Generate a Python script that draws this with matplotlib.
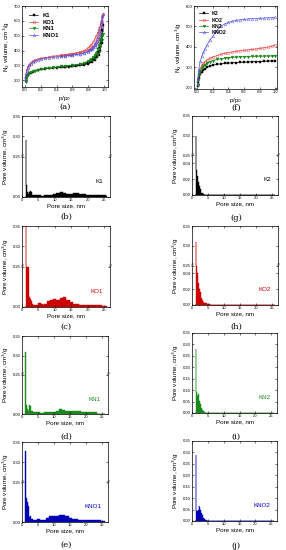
import numpy as np
import matplotlib
matplotlib.use('Agg')
import matplotlib.pyplot as plt

plt.rcParams['font.family'] = ['Liberation Sans', 'DejaVu Sans']

# Isotermas (a)
p_ads = [0.005, 0.01, 0.02, 0.03, 0.05, 0.07, 0.1, 0.13, 0.16, 0.2, 0.25, 0.3, 0.35, 0.4, 0.45,
         0.5, 0.55, 0.6, 0.65, 0.7, 0.75, 0.8, 0.85, 0.88, 0.91, 0.93, 0.95, 0.97, 0.98, 0.99]
p_des = [0.98, 0.96, 0.94, 0.92, 0.9, 0.88, 0.86, 0.84, 0.82, 0.8, 0.75, 0.7, 0.6, 0.5, 0.45]

k1_ads = [195, 215, 230, 238, 246, 252, 259, 264, 268, 273, 277, 280, 283, 285, 287,
          289, 292, 294, 297, 300, 305, 312, 326, 338, 355, 372, 400, 450, 500, 570]
k1_des = [540, 470, 420, 390, 370, 355, 345, 335, 325, 318, 307, 300, 294, 289, 287]
ko1_ads = [210, 240, 270, 288, 305, 318, 330, 337, 343, 348, 353, 357, 361, 365, 368,
           371, 375, 379, 383, 388, 395, 405, 420, 438, 460, 480, 510, 560, 600, 648]
ko1_des = [630, 590, 550, 520, 495, 475, 455, 440, 428, 418, 400, 390, 380, 371, 368]
kn1_ads = [190, 212, 228, 237, 246, 253, 261, 266, 271, 276, 280, 284, 287, 290, 293,
           296, 299, 302, 305, 309, 315, 323, 338, 352, 372, 392, 425, 470, 500, 512]
kn1_des = [505, 480, 440, 410, 385, 368, 355, 345, 337, 330, 318, 310, 302, 296, 293]
kno1_ads = [205, 235, 265, 283, 300, 313, 325, 332, 338, 343, 348, 352, 355, 358, 361,
            364, 367, 370, 374, 378, 385, 393, 410, 425, 445, 462, 490, 540, 590, 645]
kno1_des = [630, 580, 530, 490, 460, 440, 425, 412, 402, 395, 385, 378, 370, 364, 361]

# Isotermas (f)
p2 = [0.005, 0.01, 0.02, 0.04, 0.06, 0.08, 0.1, 0.13, 0.16, 0.2, 0.25, 0.3, 0.35, 0.4, 0.45,
      0.5, 0.55, 0.6, 0.65, 0.7, 0.75, 0.8, 0.85, 0.9, 0.95, 0.99]
k2 = [210, 228, 250, 268, 280, 288, 294, 301, 306, 311, 315, 318, 320, 322, 323,
      324, 325, 326, 327, 328, 328, 329, 330, 331, 332, 333]
kn2 = [215, 238, 262, 285, 298, 307, 314, 322, 328, 334, 339, 343, 346, 348, 350,
       351, 352, 353, 353, 354, 354, 355, 355, 356, 356, 357]
ko2 = [220, 242, 268, 295, 310, 320, 328, 337, 344, 351, 358, 364, 369, 373, 376,
       379, 382, 384, 386, 388, 390, 393, 396, 399, 403, 410]
kno2 = [220, 250, 290, 330, 355, 375, 392, 412, 432, 452, 480, 500, 512, 520, 526,
        530, 533, 535, 537, 538, 539, 540, 541, 542, 543, 545]

# Distribuciones de poros
ps1 = [1.0, 1.15, 1.25, 1.35, 1.5, 1.7, 1.9, 2.2, 2.5, 2.8, 3.1, 3.5, 4.0, 4.5, 5.0, 5.5, 6.0, 6.5, 7.0,
       8.0, 9.0, 10.0, 11.0, 12.0, 13.0, 14.0, 15.0, 16.0, 17.0, 18.0, 19.0, 20.0, 21.0, 22.0, 23.0,
       24.0, 25.0, 26.0]
k1_psd = [0, 0.29, 0.020, 0.015, 0.012, 0.006, 0.004, 0.006, 0.008, 0.006, 0.003, 0.002, 0.002, 0.002,
          0.003, 0.002, 0.001, 0.001, 0.002, 0.003, 0.003, 0.004, 0.005, 0.006, 0.005, 0.004, 0.004,
          0.005, 0.005, 0.004, 0.004, 0.003, 0.003, 0.003, 0.002, 0.002, 0.002, 0.001]
ko1_psd = [0, 0.40, 0.245, 0.06, 0.06, 0.055, 0.05, 0.012, 0.010, 0.008, 0.004, 0.003, 0.002, 0.003,
           0.005, 0.005, 0.004, 0.003, 0.004, 0.007, 0.009, 0.010, 0.009, 0.011, 0.012, 0.009, 0.006,
           0.004, 0.004, 0.003, 0.003, 0.003, 0.002, 0.002, 0.002, 0.002, 0.001, 0.001]
kn1_psd = [0, 0.31, 0.014, 0.012, 0.010, 0.006, 0.004, 0.012, 0.010, 0.007, 0.004, 0.003, 0.002, 0.002,
           0.003, 0.002, 0.001, 0.001, 0.002, 0.002, 0.003, 0.003, 0.004, 0.006, 0.005, 0.004, 0.004,
           0.004, 0.004, 0.004, 0.003, 0.003, 0.003, 0.002, 0.002, 0.0, 0.0, 0.0]
kno1_psd = [0, 0.327, 0.25, 0.03, 0.027, 0.025, 0.02, 0.006, 0.008, 0.008, 0.004, 0.003, 0.002, 0.002,
            0.004, 0.004, 0.003, 0.002, 0.003, 0.005, 0.007, 0.008, 0.007, 0.009, 0.009, 0.007, 0.005,
            0.004, 0.004, 0.003, 0.003, 0.003, 0.003, 0.002, 0.002, 0.002, 0.001, 0.001]

ps2 = [1.0, 1.2, 1.3, 1.4, 1.5, 1.6, 1.7, 1.8, 1.9, 2.0, 2.1, 2.2, 2.3, 2.4, 2.6, 2.8, 3.0, 3.3, 3.6,
       4.0, 4.5, 5.0, 6.0, 8.0, 26.0]
k2_psd = [0, 0, 0.30, 0.032, 0.030, 0.027, 0.024, 0.021, 0.019, 0.017, 0.015, 0.013, 0.011, 0.010,
          0.007, 0.005, 0.003, 0.002, 0.001, 0.0005, 0.0002, 0.0001, 0, 0, 0]
ko2_psd = [0, 0, 0.31, 0.06, 0.05, 0.045, 0.040, 0.036, 0.032, 0.028, 0.025, 0.022, 0.020, 0.019,
           0.016, 0.012, 0.009, 0.006, 0.004, 0.003, 0.002, 0.001, 0.0003, 0, 0]
kn2_psd = [0, 0, 0.278, 0.091, 0.088, 0.08, 0.075, 0.072, 0.078, 0.084, 0.08, 0.07, 0.06, 0.052,
           0.04, 0.03, 0.022, 0.014, 0.008, 0.004, 0.002, 0.001, 0, 0, 0]
kno2_psd = [0, 0, 0.287, 0.044, 0.045, 0.045, 0.044, 0.045, 0.045, 0.05, 0.058, 0.062, 0.064, 0.060,
            0.05, 0.042, 0.035, 0.025, 0.015, 0.008, 0.003, 0.001, 0, 0, 0]

NEGRO = 'black'
ROJO = '#cc0000'
VERDE = '#1a8a1a'
AZUL = '#0000b4'

W, H = 286, 550
fig = plt.figure(figsize=(W / 100, H / 100), dpi=100)


def ejes(izq, der, arriba, abajo):
    return fig.add_axes([izq / W, 1 - abajo / H, (der - izq) / W, (abajo - arriba) / H])


def estilo(ax):
    ax.tick_params(direction='in', top=True, right=True, length=1.5, width=0.4,
                   labelsize=3, pad=1)
    for s in ax.spines.values():
        s.set_linewidth(0.5)


def etiqueta(x, y, txt):
    fig.text(x / W, 1 - y / H, txt, ha='center', va='center', fontsize=6, family='DejaVu Serif')


# Escala cortada del eje y
L_BAJO, U_ALTO, T_TOPE, F_CORTE = 0.05, 0.25, 0.35, 0.5


def adelante(y):
    y = np.asarray(y, dtype=float)
    return np.where(y <= L_BAJO, y / L_BAJO * F_CORTE,
                    np.where(y >= U_ALTO, F_CORTE + (y - U_ALTO) / (T_TOPE - U_ALTO) * (1 - F_CORTE), F_CORTE))


def atras(z):
    z = np.asarray(z, dtype=float)
    return np.where(z <= F_CORTE, z / F_CORTE * L_BAJO,
                    U_ALTO + (z - F_CORTE) / (1 - F_CORTE) * (T_TOPE - U_ALTO))


# (a)
ax = ejes(22, 108, 6, 87)
ms = 2.0
ax.plot(p_ads, k1_ads, '-s', color=NEGRO, ms=ms, lw=0.5, mew=0.3, label='K1')
ax.plot(p_ads, ko1_ads, '-o', color='#e04040', ms=ms, lw=0.5, mew=0.3, mfc='none', label='KO1')
ax.plot(p_ads, kn1_ads, '-v', color=VERDE, ms=ms, lw=0.5, mew=0.3, label='KN1')
ax.plot(p_ads, kno1_ads, '-^', color='#5050e0', ms=ms, lw=0.5, mew=0.3, mfc='none', label='KNO1')
ax.plot(p_des, k1_des, '-s', color=NEGRO, ms=ms, lw=0.5, mew=0.3)
ax.plot(p_des, ko1_des, '-o', color='#e04040', ms=ms, lw=0.5, mew=0.3, mfc='none')
ax.plot(p_des, kn1_des, '-v', color=VERDE, ms=ms, lw=0.5, mew=0.3)
ax.plot(p_des, kno1_des, '-^', color='#5050e0', ms=ms, lw=0.5, mew=0.3, mfc='none')
ax.set_xlim(-0.04, 1.05)
ax.set_ylim(155, 700)
ax.set_xticks([0, 0.2, 0.4, 0.6, 0.8, 1.0])
ax.set_yticks([200, 300, 400, 500, 600, 700])
ax.set_xlabel('p/p$_0$', fontsize=4.5, labelpad=1)
ax.set_ylabel('N$_2$ volume, cm$^3$/g', fontsize=4.5, labelpad=1)
ax.legend(loc='upper left', frameon=False, handlelength=1.6, borderaxespad=0.8,
          labelspacing=0.25, prop={'weight': 'bold', 'size': 4.2})
estilo(ax)
etiqueta(65, 107, '(a)')

# (f)
ax = ejes(194, 277, 6, 89)
ax.plot(p2, k2, '-s', color=NEGRO, ms=ms, lw=0.5, mew=0.3, label='K2')
ax.plot(p2, ko2, '-o', color='#e04040', ms=ms, lw=0.5, mew=0.3, mfc='none', label='KO2')
ax.plot(p2, kn2, '-v', color=VERDE, ms=ms, lw=0.5, mew=0.3, label='KN2')
ax.plot(p2, kno2, '-^', color='#5050e0', ms=ms, lw=0.5, mew=0.3, mfc='none', label='KNO2')
ax.set_xlim(-0.04, 1.02)
ax.set_ylim(195, 600)
ax.set_xticks([0, 0.2, 0.4, 0.6, 0.8, 1.0])
ax.set_yticks([200, 300, 400, 500, 600])
ax.set_xlabel('p/p$_0$', fontsize=4.5, labelpad=1)
ax.set_ylabel('N$_2$ volume, cm$^3$/g', fontsize=4.5, labelpad=1)
ax.legend(loc='upper left', frameon=False, handlelength=1.6, borderaxespad=0.6,
          labelspacing=0.25, prop={'weight': 'bold', 'size': 3.8})
estilo(ax)
etiqueta(236, 108, '(f)')

# Paneles de distribución
paneles = [
    (22, 110, 116, 197, ps1, k1_psd, 'K1', NEGRO, 'corte1', (66, 217), '(b)'),
    (22, 110, 226, 307, ps1, ko1_psd, 'KO1', ROJO, 'corte1', (66, 327), '(c)'),
    (22, 108, 336, 414, ps1, kn1_psd, 'KN1', VERDE, 'corte1', (66, 437), '(d)'),
    (22, 108, 442, 522, ps1, kno1_psd, 'KNO1', AZUL, 'corte1', (66, 545), '(e)'),
    (192, 278, 116, 195, ps2, k2_psd, 'K2', NEGRO, 'corte2', (236, 218), '(g)'),
    (192, 278, 226, 305, ps2, ko2_psd, 'KO2', ROJO, 'corte2', (236, 327), '(h)'),
    (192, 277, 333, 413, ps2, kn2_psd, 'KN2', VERDE, 'lineal', (236, 437), '(i)'),
    (192, 277, 441, 521, ps2, kno2_psd, 'KNO2', AZUL, 'lineal', (236, 546), '(j)'),
]

for izq, der, arriba, abajo, xs, ys, nombre, color, tipo, pos_et, et in paneles:
    ax = ejes(izq, der, arriba, abajo)
    if tipo != 'lineal':
        ax.set_yscale('function', functions=(adelante, atras))
    ax.fill_between(xs, 0, ys, step='mid', color=color, lw=0.3)
    ax.set_xlim(0, 26.8)
    ax.set_ylim(0, 0.35)
    ax.set_xticks([0, 5, 10, 15, 20, 25])
    if tipo == 'corte1':
        ax.set_yticks([0, 0.25, 0.30, 0.35])
    elif tipo == 'corte2':
        ax.set_yticks([0, 0.02, 0.04, 0.25, 0.30, 0.35])
    else:
        ax.set_yticks([0, 0.05, 0.10, 0.15, 0.20, 0.25, 0.30, 0.35])
    ax.yaxis.set_major_formatter(plt.FormatStrFormatter('%.2f'))
    if tipo != 'lineal':
        for xb in (0, 1):
            ax.text(xb, F_CORTE, '//', transform=ax.transAxes, ha='center', va='center',
                    fontsize=3.5, color='#444444')
    ax.text(0.92, 0.19, nombre, transform=ax.transAxes, ha='right', va='center',
            fontsize=4.5, color=color)
    ax.set_xlabel('Pore size, nm', fontsize=4.5, labelpad=1)
    ax.set_ylabel('Pore volume, cm$^3$/g', fontsize=4.5, labelpad=1)
    estilo(ax)
    etiqueta(pos_et[0], pos_et[1], et)

fig.savefig('out.png', dpi=100)
